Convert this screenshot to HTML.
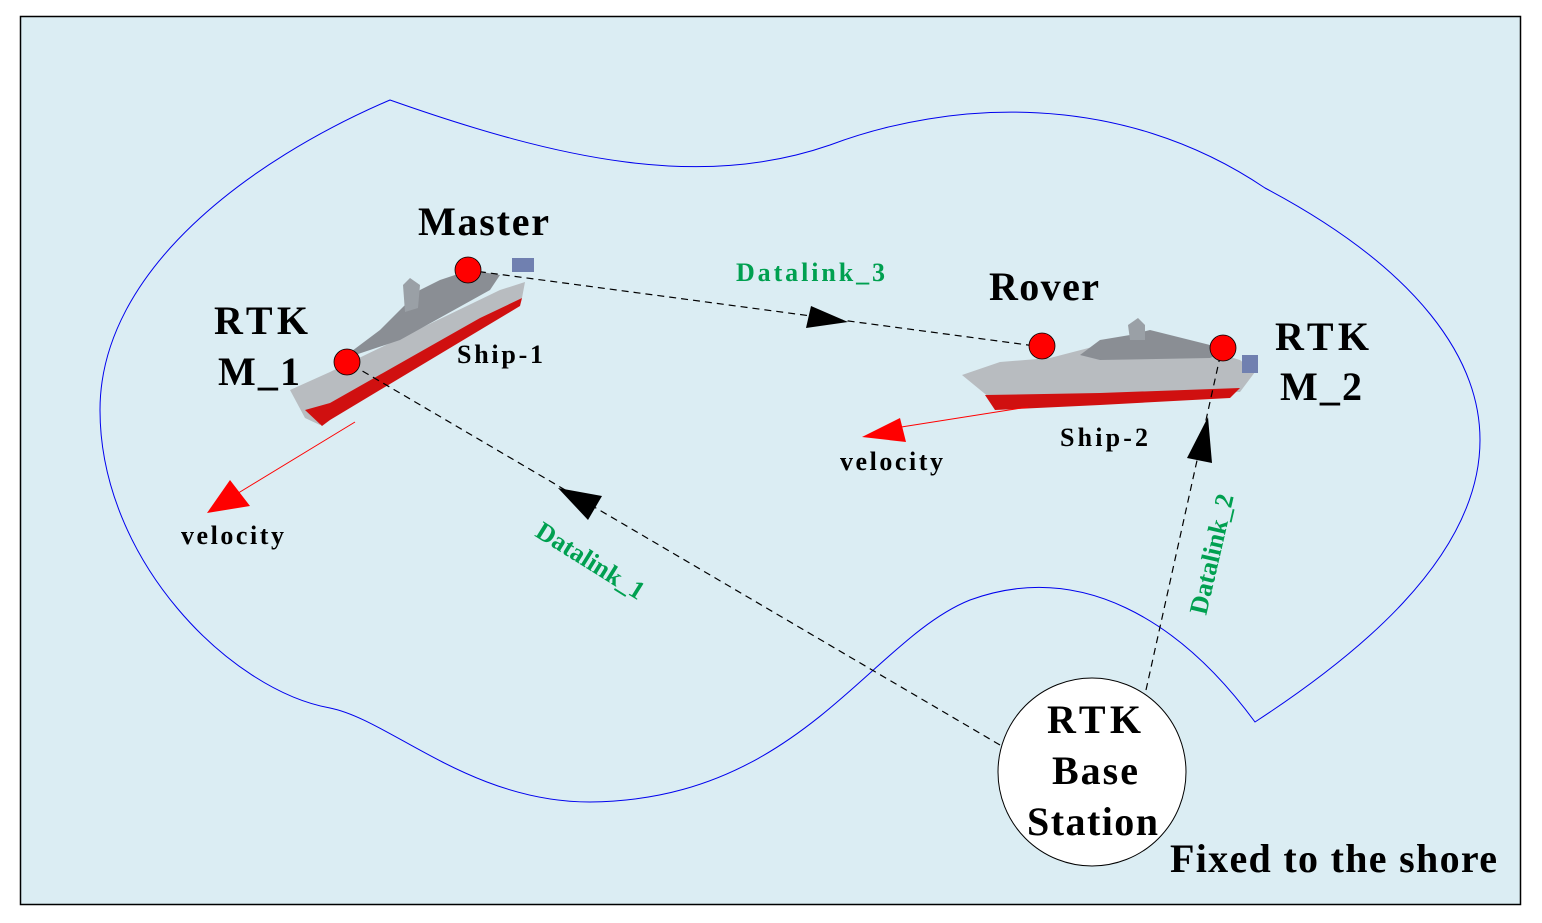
<!DOCTYPE html>
<html><head><meta charset="utf-8"><style>
html,body{margin:0;padding:0;background:#fff;}
svg{display:block;}
text{font-family:"Liberation Serif",serif;font-weight:bold;}
</style></head><body>
<svg width="1542" height="923" viewBox="0 0 1542 923" xmlns="http://www.w3.org/2000/svg">
<rect x="20.5" y="16.5" width="1500" height="888" fill="#dbedf3" stroke="#000" stroke-width="1.5"/>
<path d="M390,100 C560,160 700,190 830,145 C950,100 1120,90 1265,188 C1420,270 1480,360 1480,440 C1480,560 1350,660 1255,722 C1180,620 1080,560 970,600 C870,640 800,800 590,802 C470,802 390,720 330,708 C230,690 100,560 100,410 C100,270 250,160 390,100 Z" fill="none" stroke="#0000ee" stroke-width="1"/>
<g>
<polygon points="290,390 330,372 500,290 525,282 522,298 480,318 330,405 320,425 305,418" fill="#b8bcc0"/>
<polygon points="305,410 330,403 480,318 522,298 520,306 480,330 330,420 322,426" fill="#d01010"/>
<polygon points="340,360 380,330 400,310 420,290 440,280 470,270 500,275 490,290 400,340" fill="#8a8e94"/>
<polygon points="403,285 410,278 420,285 418,308 405,312" fill="#9aa0a6"/>
<rect x="512" y="258" width="22" height="14" fill="#7080b0"/>
</g>
<g>
<polygon points="962,375 1000,362 1050,358 1100,345 1150,342 1200,348 1240,360 1255,372 1240,392 1100,395 990,398" fill="#b8bcc0"/>
<polygon points="985,395 1100,393 1240,388 1230,398 1100,405 995,410" fill="#d01010"/>
<polygon points="1080,355 1100,340 1130,335 1150,330 1190,340 1230,350 1210,358 1100,360" fill="#8a8e94"/>
<polygon points="1128,325 1138,318 1145,325 1145,340 1130,340" fill="#9aa0a6"/>
<rect x="1242" y="355" width="16" height="18" fill="#7080b0"/>
</g>
<g stroke="#000" stroke-width="1.2" stroke-dasharray="7,5" fill="none">
<line x1="467" y1="270" x2="1043" y2="347"/>
<line x1="1000" y1="745" x2="347" y2="362"/>
<line x1="1146" y1="690" x2="1222" y2="348"/>
</g>
<polygon points="848,322 806,328 811,306" fill="#000"/>
<polygon points="558,488 602,496 588,520" fill="#000"/>
<polygon points="1208,417 1212,463 1187,458" fill="#000"/>
<line x1="355" y1="422" x2="235" y2="495" stroke="#ff0000" stroke-width="1"/>
<polygon points="207,513 230,480 250,506" fill="#ff0000"/>
<line x1="1028" y1="407" x2="895" y2="428" stroke="#ff0000" stroke-width="1"/>
<polygon points="862,437 900,418 906,442" fill="#ff0000"/>
<g fill="#ff0000" stroke="#000" stroke-width="0.8">
<circle cx="468" cy="270" r="13"/>
<circle cx="347" cy="362" r="13"/>
<circle cx="1042" cy="346" r="13"/>
<circle cx="1223" cy="348" r="13"/>
</g>
<circle cx="1092" cy="772" r="94" fill="#fff" stroke="#000" stroke-width="1"/>
<g fill="#000">
<text x="418" y="235" font-size="40" textLength="131">Master</text>
<text x="214" y="334" font-size="40" textLength="94">RTK</text>
<text x="218" y="385" font-size="40" textLength="82">M_1</text>
<text x="457" y="363" font-size="26" textLength="86">Ship-1</text>
<text x="989" y="300" font-size="40" textLength="110">Rover</text>
<text x="1275" y="350" font-size="40" textLength="94">RTK</text>
<text x="1280" y="400" font-size="40" textLength="82">M_2</text>
<text x="1060" y="446" font-size="26" textLength="88">Ship-2</text>
<text x="840" y="470" font-size="26" textLength="103">velocity</text>
<text x="181" y="544" font-size="26" textLength="103">velocity</text>
<text x="1047" y="733" font-size="40" textLength="94">RTK</text>
<text x="1052" y="784" font-size="40" textLength="86">Base</text>
<text x="1027" y="835" font-size="40" textLength="131">Station</text>
<text x="1170" y="872" font-size="40" textLength="327">Fixed to the shore</text>
</g>
<g fill="#00a050" font-size="26">
<text x="736" y="281" textLength="149">Datalink_3</text>
<text x="0" y="0" text-anchor="middle" transform="translate(586,568) rotate(32)">Datalink_1</text>
<text x="0" y="0" text-anchor="middle" transform="translate(1220,556) rotate(-77)">Datalink_2</text>
</g>
</svg>
</body></html>
